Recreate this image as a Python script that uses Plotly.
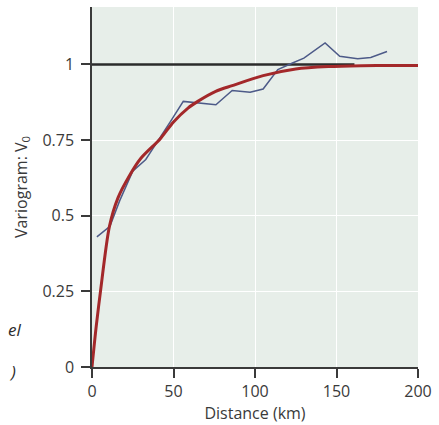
import plotly.graph_objects as go

# Empirical variogram (blue)
emp_dist = [3, 11, 17, 25, 33, 40, 48, 56, 66, 76, 86, 97, 105, 114, 123, 130, 143, 152, 163, 171, 181]
emp_val = [0.43, 0.465, 0.55, 0.647, 0.686, 0.746, 0.81, 0.878, 0.873, 0.867, 0.914, 0.908, 0.919, 0.983, 1.005, 1.021, 1.071, 1.027, 1.019, 1.023, 1.043]

# Fitted model (red)
model_dist = [0, 2.6, 5.2, 10.7, 16, 22.7, 30, 41.8, 50, 58.9, 64.9, 75.9, 86, 105, 125, 145, 165, 185, 200]
model_val = [0, 0.135, 0.25, 0.465, 0.56, 0.63, 0.69, 0.754, 0.81, 0.856, 0.878, 0.911, 0.93, 0.963, 0.985, 0.993, 0.996, 0.997, 0.997]

# Sill reference (black)
sill_dist = [0, 161]
sill_val = [1, 1]

x_ticks = [0, 50, 100, 150, 200]
y_ticks = [0, 0.25, 0.5, 0.75, 1]
y_tick_text = ["0", "0.25", "0.5", "0.75", "1"]

fig = go.Figure()
fig.add_trace(go.Scatter(x=sill_dist, y=sill_val, mode="lines",
                         line=dict(color="#2b2b2b", width=2.5), hoverinfo="skip"))
fig.add_trace(go.Scatter(x=emp_dist, y=emp_val, mode="lines",
                         line=dict(color="#4d5a88", width=1.5)))
fig.add_trace(go.Scatter(x=model_dist, y=model_val, mode="lines",
                         line=dict(color="#a3282a", width=3, shape="spline", smoothing=0.8)))

font = dict(family="Open Sans, Noto Sans, sans-serif", size=16, color="#3a3a3a")

fig.update_layout(
    width=439, height=425,
    margin=dict(l=92, r=15, t=7, b=58, pad=0),
    paper_bgcolor="white",
    plot_bgcolor="#e7eee9",
    showlegend=False,
    font=font,
    xaxis=dict(range=[0, 200], tickvals=x_ticks, showgrid=True, gridcolor="white", gridwidth=1.2,
               zeroline=False, showline=True, linecolor="#3a3a3a", linewidth=1.5,
               ticks="outside", ticklen=9, tickcolor="#3a3a3a", tickwidth=1.5,
               title=dict(text="Distance (km)", font=font, standoff=1)),
    yaxis=dict(range=[0, 1.19], tickvals=y_ticks, ticktext=y_tick_text, showgrid=True,
               gridcolor="white", gridwidth=1.2,
               zeroline=False, showline=True, linecolor="#3a3a3a", linewidth=1.5,
               ticks="outside", ticklen=9, tickcolor="#3a3a3a", tickwidth=1.5,
               ticklabelstandoff=4,
               title=dict(text="Variogram: V<sub>0</sub>", font=font, standoff=11)),
    annotations=[
        dict(text="<i>el</i>", xref="paper", yref="paper", x=-0.211, y=0.104,
             xanchor="right", yanchor="middle", showarrow=False,
             font=dict(family="Open Sans, sans-serif", size=17, color="#2b2b2b")),
        dict(text="<i>)</i>", xref="paper", yref="paper", x=-0.226, y=-0.013,
             xanchor="right", yanchor="middle", showarrow=False,
             font=dict(family="Open Sans, sans-serif", size=17, color="#2b2b2b")),
    ],
)

fig.write_html("out.html", config={"displayModeBar": False},
               post_script="document.body.style.margin='0';document.body.style.overflow='hidden';")
